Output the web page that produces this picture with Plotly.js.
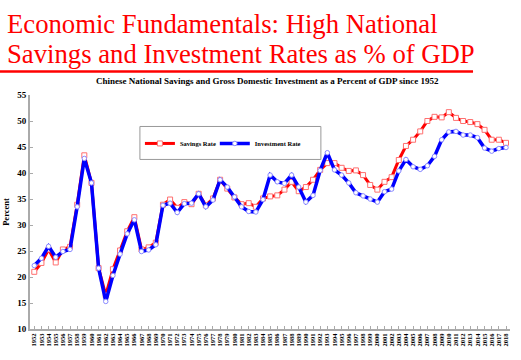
<!DOCTYPE html>
<html>
<head>
<meta charset="utf-8">
<script src="https://cdn.plot.ly/plotly-3.0.1.min.js"></script>
<style>html,body{margin:0;padding:0;background:#fff;}#chart{width:521px;height:360px;}</style>
</head>
<body>
<div id="chart"></div>
<script>
const years = [1952,1953,1954,1955,1956,1957,1958,1959,1960,1961,1962,1963,1964,1965,1966,1967,1968,1969,1970,1971,1972,1973,1974,1975,1976,1977,1978,1979,1980,1981,1982,1983,1984,1985,1986,1987,1988,1989,1990,1991,1992,1993,1994,1995,1996,1997,1998,1999,2000,2001,2002,2003,2004,2005,2006,2007,2008,2009,2010,2011,2012,2013,2014,2015,2016,2017,2018];

const savingsRate = [21.0,22.7,25.3,22.8,25.3,25.8,33.9,43.4,38.1,21.7,16.5,21.5,25.1,28.8,31.5,25.3,25.7,26.6,33.9,34.9,33.3,34.4,34.0,36.0,33.8,35.1,38.7,37.0,35.3,34.0,34.2,33.5,35.1,35.5,35.7,36.8,38.3,36.5,37.3,38.7,40.6,41.9,41.9,41.0,40.4,40.5,39.6,37.7,36.8,38.3,39.2,42.5,45.2,46.4,48.0,50.0,50.8,50.7,51.7,50.6,50.0,49.8,49.4,48.3,46.4,46.4,45.8];

const investmentRate = [22.2,23.6,25.9,23.8,24.9,25.3,33.5,42.8,38.1,21.7,15.3,20.3,24.4,28.3,31.0,24.9,25.2,26.2,33.8,34.2,32.4,34.1,34.2,36.0,33.5,34.8,38.7,37.3,35.4,33.5,32.6,32.5,34.9,39.6,38.3,38.0,39.6,37.3,34.4,35.7,40.5,43.9,40.6,39.6,38.1,36.2,35.6,35.0,34.4,36.4,36.9,40.4,42.6,41.2,40.7,41.4,43.2,46.4,47.9,48.0,47.3,47.3,46.8,44.8,44.2,44.7,44.9];

const seriesNames = ["Savings Rate", "Investment Rate"];
const yTicks = [10,15,20,25,30,35,40,45,50,55];

const serif = "Liberation Serif, Times New Roman, serif";

const traces = [
  {
    x: years, y: savingsRate, name: seriesNames[0], type: "scatter", mode: "lines+markers",
    legend: "legend",
    line: {color: "#ff0000", width: 3},
    marker: {symbol: "square", size: 5, color: "#ffffff", line: {color: "#ff6f6f", width: 1}}
  },
  {
    x: years, y: investmentRate, name: seriesNames[1], type: "scatter", mode: "lines+markers",
    legend: "legend2",
    line: {color: "#0000ff", width: 3.5},
    marker: {symbol: "circle", size: 4.5, color: "#ffffff", line: {color: "#8c8cff", width: 1}}
  }
];

const legendFont = {family: serif, size: 6.5, color: "#000", weight: "bold"};

const layout = {
  width: 521, height: 360,
  margin: {l: 30, r: 11, t: 94.5, b: 31.3, pad: 0},
  paper_bgcolor: "#ffffff", plot_bgcolor: "#ffffff",
  showlegend: true,
  legend: {
    orientation: "h", x: 0.229, xanchor: "left", y: 0.793, yanchor: "middle",
    bgcolor: "rgba(0,0,0,0)", borderwidth: 0, font: legendFont, itemclick: false
  },
  legend2: {
    orientation: "h", x: 0.385, xanchor: "left", y: 0.793, yanchor: "middle",
    bgcolor: "rgba(0,0,0,0)", borderwidth: 0, font: legendFont, itemclick: false
  },
  xaxis: {
    range: [1951.4, 2018.56],
    tickmode: "array", tickvals: years, ticktext: years.map(String),
    tickangle: -90, ticks: "inside", ticklen: 3, tickcolor: "#aaaaaa",
    showline: true, linecolor: "#aaaaaa", linewidth: 2,
    showgrid: false, zeroline: false,
    tickfont: {family: serif, size: 6.5, color: "#000", weight: "bold"}
  },
  yaxis: {
    range: [10, 55],
    tickmode: "array", tickvals: yTicks,
    ticks: "inside", ticklen: 3, tickcolor: "#aaaaaa",
    showline: true, linecolor: "#aaaaaa", linewidth: 2,
    showgrid: false, zeroline: false,
    tickfont: {family: serif, size: 9, color: "#000", weight: "bold"},
    title: {text: "Percent", font: {family: serif, size: 8.5, color: "#000", weight: "bold"}, standoff: 6}
  },
  shapes: [
    {type: "line", xref: "paper", yref: "paper", x0: -0.0625, x1: 0.923, y0: 1.1003, y1: 1.1003,
     line: {color: "#ff0000", width: 2.5}},
    {type: "rect", xref: "paper", yref: "paper", x0: 0.229, x1: 0.606, y0: 0.7246, y1: 0.8655,
     line: {color: "#999999", width: 1}, fillcolor: "rgba(0,0,0,0)"}
  ],
  annotations: [
    {text: "Economic Fundamentals: High National", xref: "paper", yref: "paper",
     x: -0.0521, y: (328.7 - 23) / 234.2, xanchor: "left", yanchor: "middle", showarrow: false,
     font: {family: serif, size: 26.7, color: "#ff0000"}},
    {text: "Savings and Investment Rates as % of GDP", xref: "paper", yref: "paper",
     x: -0.0521, y: (328.7 - 53) / 234.2, xanchor: "left", yanchor: "middle", showarrow: false,
     font: {family: serif, size: 26.7, color: "#ff0000"}},
    {text: "Chinese National Savings and Gross Domestic Investment as a Percent of GDP since 1952",
     xref: "paper", yref: "paper", x: 0.495, y: (328.7 - 80) / 234.2, xanchor: "center", yanchor: "middle",
     showarrow: false, font: {family: serif, size: 9, color: "#000", weight: "bold"}}
  ]
};

Plotly.newPlot("chart", traces, layout, {displayModeBar: false, staticPlot: true});
</script>
</body>
</html>
